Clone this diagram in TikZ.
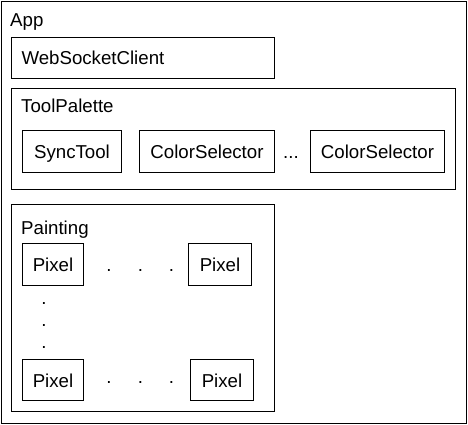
\documentclass[tikz,border=0pt]{standalone}
\usepackage{fontspec}
\setmainfont{Liberation Sans}
\begin{document}
\begin{tikzpicture}[x=1pt,y=-1pt,
  every node/.style={font=\fontsize{18.67}{22}\selectfont},
  box/.style={draw,line width=1pt,anchor=north west,inner sep=0pt,text height=14pt,text depth=0pt},
  lbl/.style={anchor=base west,inner sep=0pt},
  dotlbl/.style={anchor=base,inner sep=0pt}]
\useasboundingbox (0,0) rectangle (468,425);
% outer App
\node[box,line width=1.3pt,minimum width=465pt,minimum height=422pt] (app) at (1,1) {};
\node[lbl] (applbl) at (10,27) {App};
% WebSocketClient
\node[box,minimum width=263pt,minimum height=41pt,text width=243pt,align=left,inner xsep=10pt] (wsc) at (11,37) {WebSocketClient};
% ToolPalette
\node[box,minimum width=444pt,minimum height=101pt] (tp) at (11,88) {};
\node[lbl] (tplbl) at (21,113) {ToolPalette};
\node[box,minimum width=99pt,minimum height=42pt] (sync) at (22,130) {SyncTool};
\node[box,minimum width=135pt,minimum height=42pt] (csa) at (139,130) {ColorSelector};
\node[box,minimum width=134pt,minimum height=42pt] (csb) at (310,130) {ColorSelector};
\node[dotlbl] (ell) at (291,158) {...};
% Painting
\node[box,minimum width=263pt,minimum height=207pt] (paint) at (11,204) {};
\node[lbl] (paintlbl) at (21,234) {Painting};
\node[box,minimum width=61pt,minimum height=42pt] (pa) at (22,243) {Pixel};
\node[box,minimum width=63pt,minimum height=42pt] (pb) at (188,243) {Pixel};
\node[box,minimum width=61pt,minimum height=41pt] (pc) at (22,359) {Pixel};
\node[box,minimum width=63pt,minimum height=41pt] (pd) at (190,359) {Pixel};
% dots
\node[dotlbl] (h1) at (109,271) {.};
\node[dotlbl] (h2) at (140.5,271) {.};
\node[dotlbl] (h3) at (171.5,271) {.};
\node[dotlbl] (h4) at (109,383) {.};
\node[dotlbl] (h5) at (140.5,383) {.};
\node[dotlbl] (h6) at (171.5,383) {.};
\node[dotlbl] (v1) at (44,304) {.};
\node[dotlbl] (v2) at (44,326) {.};
\node[dotlbl] (v3) at (44,348) {.};
\end{tikzpicture}
\end{document}
